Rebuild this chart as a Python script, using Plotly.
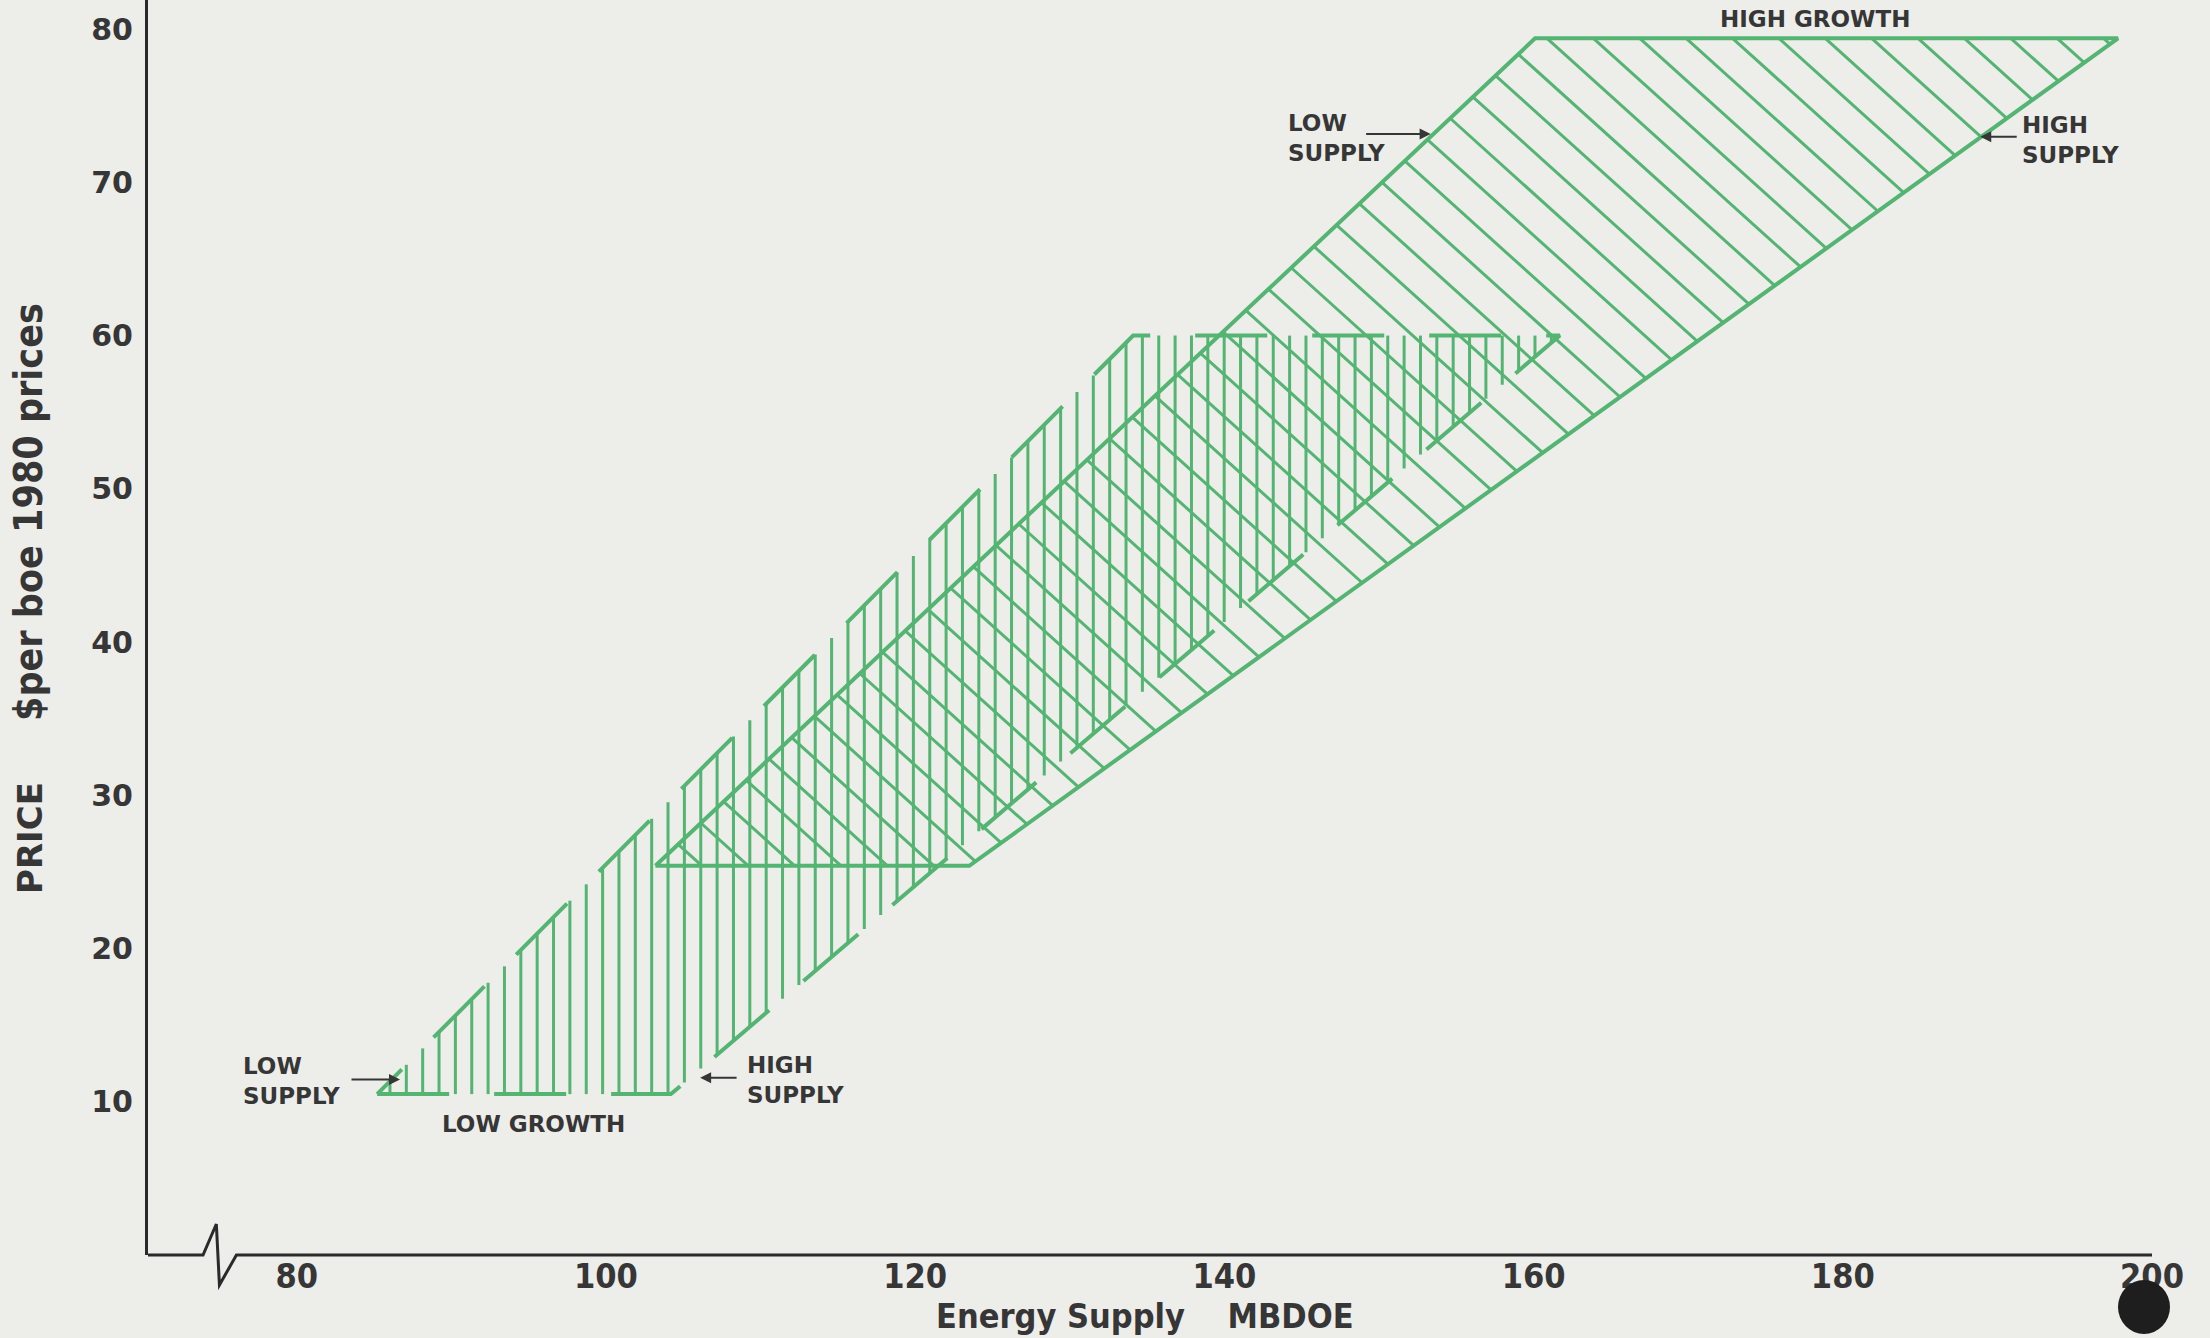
import numpy as np
import plotly.graph_objects as go

# ---------------- data ----------------
# Scenario envelopes: Energy Supply (MBDOE) vs Price ($ per boe, 1980 prices)
LOW_GROWTH_SUPPLY = [85.2, 104.2, 161.7, 134.1]     # bottom: low supply, high supply; top: high supply, low supply
LOW_GROWTH_PRICE = [10.5, 10.5, 60.0, 60.0]
HIGH_GROWTH_SUPPLY = [103.2, 123.5, 197.8, 160.1]
HIGH_GROWTH_PRICE = [25.4, 25.4, 79.4, 79.4]

X_TICKS = [80, 100, 120, 140, 160, 180, 200]
Y_TICKS = [10, 20, 30, 40, 50, 60, 70, 80]
X_RANGE = [70.38, 200]
Y_RANGE = [0, 81.9]

# axis-break zigzag on the x axis (supply values, offsets in px)
AXIS_BREAK_X = [73.94, 74.8, 75.0, 76.1]
AXIS_BREAK_DY_PX = [0, 31, -30, 0]

# ---------------- style ----------------
W, H = 2210, 1338
ML, MR, MT, MB = 148, 58, 0, 83
PLOT_H = H - MT - MB
BG = "#ededea"
GREEN = "rgb(84,180,114)"
INK = "#363636"
WIDE = "DejaVu Sans, Verdana, Arial, sans-serif"
COND = "DejaVu Sans Condensed, Liberation Sans Narrow, Arial Narrow, Liberation Sans, sans-serif"

V_HATCH_START, V_HATCH_STEP = 86.03, 1.058      # vertical hatching of low-growth band
D_HATCH_START, D_HATCH_STEP, D_HATCH_SLOPE = 160.87, 3.0, -0.91  # diagonal hatching of high-growth band


def clip_line(p0, d, poly):
    """Clip infinite line p0 + t*d against convex polygon poly (Cyrus-Beck)."""
    p0 = np.asarray(p0, float)
    d = np.asarray(d, float)
    n = len(poly)
    area = sum(poly[i][0] * poly[(i + 1) % n][1] - poly[(i + 1) % n][0] * poly[i][1] for i in range(n))
    sgn = 1.0 if area > 0 else -1.0
    t_in, t_out = -1e9, 1e9
    for i in range(n):
        a = np.asarray(poly[i], float)
        b = np.asarray(poly[(i + 1) % n], float)
        e = b - a
        nrm = sgn * np.array([-e[1], e[0]])
        num = nrm @ (p0 - a)
        den = nrm @ d
        if abs(den) < 1e-12:
            if num < 0:
                return None
            continue
        t = -num / den
        if den > 0:
            t_in = max(t_in, t)
        else:
            t_out = min(t_out, t)
    if t_in >= t_out:
        return None
    return p0 + t_in * d, p0 + t_out * d


def hatch(poly, starts, p_y, direction):
    xs, ys = [], []
    for c in starts:
        seg = clip_line((c, p_y), direction, poly)
        if seg is None:
            continue
        (x0, y0), (x1, y1) = seg
        xs += [x0, x1, None]
        ys += [y0, y1, None]
    return xs, ys


low_poly = list(zip(LOW_GROWTH_SUPPLY, LOW_GROWTH_PRICE))
high_poly = list(zip(HIGH_GROWTH_SUPPLY, HIGH_GROWTH_PRICE))

fig = go.Figure()

# high growth band: diagonal hatching + solid outline
d_starts = np.arange(D_HATCH_START - D_HATCH_STEP * 40, X_RANGE[1] + 1, D_HATCH_STEP)
hx, hy = hatch(high_poly, d_starts, HIGH_GROWTH_PRICE[2], (1.0, D_HATCH_SLOPE))
fig.add_trace(go.Scatter(x=hx, y=hy, mode="lines", line=dict(color=GREEN, width=3),
                         hoverinfo="skip", showlegend=False))
fig.add_trace(go.Scatter(x=HIGH_GROWTH_SUPPLY + HIGH_GROWTH_SUPPLY[:1],
                         y=HIGH_GROWTH_PRICE + HIGH_GROWTH_PRICE[:1],
                         mode="lines", line=dict(color=GREEN, width=4),
                         name="High growth", showlegend=False))

# low growth band: vertical hatching + broken outline
v_starts = np.arange(V_HATCH_START, max(LOW_GROWTH_SUPPLY), V_HATCH_STEP)
vx, vy = hatch(low_poly, v_starts, 0.0, (0.0, 1.0))
fig.add_trace(go.Scatter(x=vx, y=vy, mode="lines", line=dict(color=GREEN, width=3),
                         hoverinfo="skip", showlegend=False))
fig.add_trace(go.Scatter(x=LOW_GROWTH_SUPPLY + LOW_GROWTH_SUPPLY[:1],
                         y=LOW_GROWTH_PRICE + LOW_GROWTH_PRICE[:1],
                         mode="lines", line=dict(color=GREEN, width=4, dash="72px,45px"),
                         name="Low growth", showlegend=False))

# ---------------- annotations ----------------
ann = []
lab_font = dict(family=WIDE, size=23, color=INK, weight="bold")


def px_to_x(px):
    return X_RANGE[0] + (px - ML) * (X_RANGE[1] - X_RANGE[0]) / (W - ML - MR)


def py_to_y(py):
    return Y_RANGE[1] - (py - MT) * (Y_RANGE[1] - Y_RANGE[0]) / PLOT_H


def label(text, px, py, xanchor="left"):
    ann.append(dict(text=text, x=px_to_x(px), y=py_to_y(py), xref="x", yref="y", showarrow=False,
                    xanchor=xanchor, yanchor="middle", align="left", font=lab_font))


label("LOW<br>SUPPLY", 241, 1081)
label("HIGH<br>SUPPLY", 745, 1080)
label("LOW GROWTH", 533, 1124, xanchor="center")
label("LOW<br>SUPPLY", 1286, 138)
label("HIGH<br>SUPPLY", 2020, 140)
label("HIGH GROWTH", 1815, 19, xanchor="center")

# arrows (head in data coords, tail offset in px)
for hx_, hy_, ax_ in [(86.68, 11.45, -50), (106.09, 11.56, 38), (153.34, 73.16, -66), (188.89, 72.98, 38)]:
    ann.append(dict(x=hx_, y=hy_, xref="x", yref="y", ax=ax_, ay=0, text="", showarrow=True,
                    arrowhead=2, arrowsize=1.1, arrowwidth=2, arrowcolor=INK, standoff=0))

# axis titles
ann.append(dict(text="Energy Supply\u00a0\u00a0\u00a0\u00a0MBDOE", x=(1145 - ML) / (W - ML - MR),
                y=-(1316 - (H - MB)) / PLOT_H, xref="paper", yref="paper", showarrow=False,
                xanchor="center", yanchor="middle",
                font=dict(family=COND, size=34, color=INK, weight="bold")))
ann.append(dict(text="<span style=\"font-family:'DejaVu Sans';font-size:34px\">PRICE</span>"
                     "\u00a0\u00a0\u00a0\u00a0\u00a0$per boe 1980 prices",
                x=(28 - ML) / (W - ML - MR), y=((H - MB) - 599) / PLOT_H, xref="paper", yref="paper",
                showarrow=False, textangle=-90, xanchor="center", yanchor="middle",
                font=dict(family=COND, size=39, color=INK, weight="bold")))

# ---------------- shapes ----------------
shapes = []
path_pts = [(X_RANGE[0], 0)] + list(zip(AXIS_BREAK_X, AXIS_BREAK_DY_PX)) + [(X_RANGE[1], 0)]
path = "M " + " L ".join(f"{x},{dy / PLOT_H}" for x, dy in path_pts)
shapes.append(dict(type="path", path=path, xref="x", yref="paper",
                   line=dict(color="#2a2a2a", width=3), layer="above"))
# punch-hole dot bottom right
shapes.append(dict(type="circle", xref="paper", yref="paper", xsizemode="pixel", ysizemode="pixel",
                   xanchor=(2144 - ML) / (W - ML - MR), yanchor=-(1307 - (H - MB)) / PLOT_H,
                   x0=-26, x1=26, y0=-27, y1=27, fillcolor="#1e1e1e", line=dict(width=0)))

fig.update_layout(
    width=W, height=H,
    margin=dict(l=ML, r=MR, t=MT, b=MB, pad=0),
    paper_bgcolor=BG, plot_bgcolor=BG,
    annotations=ann, shapes=shapes, showlegend=False,
    xaxis=dict(range=X_RANGE, tickvals=X_TICKS, ticks="", showgrid=False, zeroline=False,
               showline=False, tickfont=dict(family=COND, size=34, color=INK, weight="bold"),
               ticklabelstandoff=-2),
    yaxis=dict(range=Y_RANGE, tickvals=Y_TICKS, ticks="", showgrid=False, zeroline=False,
               showline=True, linecolor="#2a2a2a", linewidth=3,
               tickfont=dict(family=WIDE, size=30, color=INK, weight="bold"),
               ticklabelstandoff=6),
)

fig.write_html("out.html", config={"displayModeBar": False},
               post_script="document.body.style.margin='0';document.body.style.overflow='hidden';")
